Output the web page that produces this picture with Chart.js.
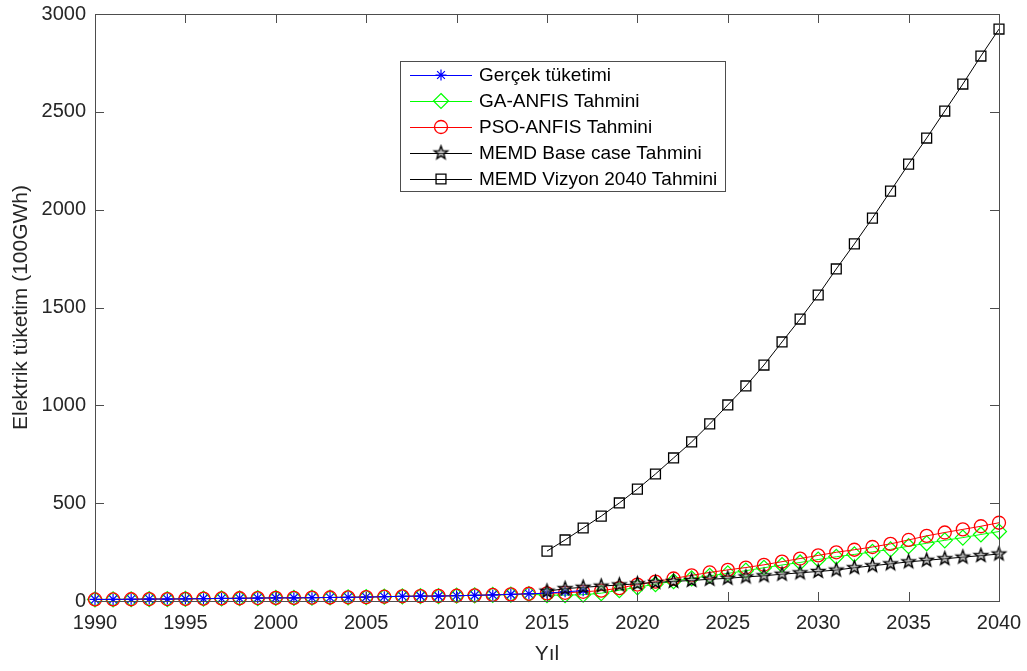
<!DOCTYPE html>
<html>
<head>
<meta charset="utf-8">
<script src="https://cdn.jsdelivr.net/npm/chart.js@4"></script>
<style>
  html, body { margin: 0; padding: 0; background: #fff; }
  #wrap { width: 1027px; height: 671px; }
</style>
</head>
<body>
<div id="wrap"><canvas id="chart" width="1027" height="671"></canvas></div>
<script>
'use strict';

// Years
const yearsAll = [1990, 1991, 1992, 1993, 1994, 1995, 1996, 1997, 1998, 1999,
  2000, 2001, 2002, 2003, 2004, 2005, 2006, 2007, 2008, 2009,
  2010, 2011, 2012, 2013, 2014, 2015, 2016, 2017, 2018, 2019,
  2020, 2021, 2022, 2023, 2024, 2025, 2026, 2027, 2028, 2029,
  2030, 2031, 2032, 2033, 2034, 2035, 2036, 2037, 2038, 2039, 2040];
const yearsReal = [1990, 1991, 1992, 1993, 1994, 1995, 1996, 1997, 1998, 1999,
  2000, 2001, 2002, 2003, 2004, 2005, 2006, 2007, 2008, 2009,
  2010, 2011, 2012, 2013, 2014, 2015, 2016, 2017];
const yearsForecast = [2015, 2016, 2017, 2018, 2019, 2020, 2021, 2022, 2023, 2024,
  2025, 2026, 2027, 2028, 2029, 2030, 2031, 2032, 2033, 2034,
  2035, 2036, 2037, 2038, 2039, 2040];

// Series values (100GWh)
const realValues = [8, 8, 9, 10, 10, 11, 12, 13, 14, 15,
  16, 16, 17, 18, 19, 20, 22, 24, 25, 25,
  27, 29, 31, 34, 37, 40, 47, 53];
const gaValues = [8, 8, 9, 10, 10, 11, 12, 13, 14, 15,
  16, 16, 17, 18, 19, 20, 22, 24, 25, 25,
  27, 29, 31, 33, 35,
  30, 30, 32, 40, 55, 70, 86, 101, 116, 129,
  141, 155, 170, 184, 197, 212, 226, 238, 251, 264,
  280, 295, 310, 324, 340, 355];
const psoValues = [8, 8, 9, 10, 10, 11, 12, 13, 14, 15,
  16, 16, 17, 18, 19, 20, 22, 24, 25, 26,
  27, 29, 31, 34, 37,
  39, 42, 47, 53, 66, 84, 99, 115, 131, 146,
  159, 171, 185, 201, 217, 233, 249, 262, 276, 292,
  312, 333, 350, 366, 382, 400];
const baseValues = [50, 63, 70, 76, 82, 88, 95, 100, 105, 111,
  116, 123, 129, 137, 144, 151, 158, 170, 180, 190,
  200, 208, 216, 224, 232, 240];
const vizyonValues = [255, 312, 373, 434, 501, 572, 649, 731, 813, 905,
  1002, 1099, 1206, 1324, 1441, 1564, 1697, 1825, 1957, 2095,
  2233, 2366, 2504, 2642, 2785, 2923];

const seriesLabels = ['Gerçek tüketimi', 'GA-ANFIS Tahmini', 'PSO-ANFIS Tahmini',
  'MEMD Base case Tahmini', 'MEMD Vizyon 2040 Tahmini'];

const FONT = '"Liberation Sans", Arial, Helvetica, sans-serif';
const TEXT = '#262626';
const AXIS = '#4d4d4d';

function toPoints(years, values) {
  return values.map(function (v, i) { return { x: years[i], y: v }; });
}

// Pentagram marker (MATLAB 'p')
function makePentagram(r, lw) {
  const size = Math.ceil(2 * r + 2 * lw + 2);
  const c = document.createElement('canvas');
  c.width = size;
  c.height = size;
  const g = c.getContext('2d');
  const cx = size / 2, cy = size / 2;
  g.beginPath();
  for (let i = 0; i < 10; i++) {
    const rad = (i % 2 === 0) ? r : r * 0.42;
    const a = -Math.PI / 2 + i * Math.PI / 5;
    const px = cx + rad * Math.cos(a), py = cy + rad * Math.sin(a);
    if (i === 0) g.moveTo(px, py); else g.lineTo(px, py);
  }
  g.closePath();
  g.fillStyle = 'rgba(128,128,128,0.5)';
  g.fill();
  g.lineWidth = lw;
  g.strokeStyle = '#000';
  g.lineJoin = 'miter';
  g.stroke();
  return c;
}
const starImg = makePentagram(7, 1.4);

const NONE = 'rgba(0,0,0,0)';

const datasets = [{
  label: seriesLabels[0],
  data: toPoints(yearsReal, realValues),
  borderColor: '#0000ff',
  backgroundColor: NONE,
  pointBorderColor: '#0000ff',
  pointStyle: 'star',
  pointRadius: 5.5,
  pointBorderWidth: 1.2,
  borderWidth: 1,
  order: 1
}, {
  label: seriesLabels[1],
  data: toPoints(yearsAll, gaValues),
  borderColor: '#00ff00',
  backgroundColor: NONE,
  pointBorderColor: '#00ff00',
  pointStyle: 'rectRot',
  pointRadius: 7.5,
  pointBorderWidth: 1.2,
  borderWidth: 1,
  order: 3
}, {
  label: seriesLabels[2],
  data: toPoints(yearsAll, psoValues),
  borderColor: '#ff0000',
  backgroundColor: NONE,
  pointBorderColor: '#ff0000',
  pointStyle: 'circle',
  pointRadius: 6.5,
  pointBorderWidth: 1.3,
  borderWidth: 1,
  order: 2
}, {
  label: seriesLabels[3],
  data: toPoints(yearsForecast, baseValues),
  borderColor: '#000000',
  backgroundColor: NONE,
  pointStyle: starImg,
  pointRadius: 7,
  borderWidth: 1,
  order: 0
}, {
  label: seriesLabels[4],
  data: toPoints(yearsForecast, vizyonValues),
  borderColor: '#000000',
  backgroundColor: NONE,
  pointBorderColor: '#000000',
  pointStyle: 'rect',
  pointRadius: 7,
  pointBorderWidth: 1.3,
  borderWidth: 1,
  order: 0
}];

datasets.forEach(function (d) {
  d.showLine = true;
  d.fill = false;
  d.tension = 0;
  d.clip = false;
  d.pointHoverRadius = d.pointRadius;
});

/**
 * Axes box with inward ticks, MATLAB style.
 */
const axesBoxPlugin = {
  id: 'axesBox',
  afterDraw: function (chart) {
    const ctx = chart.ctx;
    const a = chart.chartArea;
    const xs = chart.scales.x, ys = chart.scales.y;
    const tl = 9;
    ctx.save();
    ctx.strokeStyle = AXIS;
    ctx.lineWidth = 1;
    ctx.strokeRect(Math.round(a.left) + 0.5, Math.round(a.top) + 0.5,
      Math.round(a.right - a.left), Math.round(a.bottom - a.top));
    ctx.beginPath();
    xs.ticks.forEach(function (t) {
      const px = Math.round(xs.getPixelForValue(t.value)) + 0.5;
      ctx.moveTo(px, a.bottom); ctx.lineTo(px, a.bottom - tl);
      ctx.moveTo(px, a.top); ctx.lineTo(px, a.top + tl);
    });
    ys.ticks.forEach(function (t) {
      const py = Math.round(ys.getPixelForValue(t.value)) + 0.5;
      ctx.moveTo(a.left, py); ctx.lineTo(a.left + tl, py);
      ctx.moveTo(a.right, py); ctx.lineTo(a.right - tl, py);
    });
    ctx.stroke();
    ctx.restore();
  }
};

/**
 * Legend box drawn inside the axes.
 */
function drawMarker(ctx, ds, x, y) {
  const r = ds.pointRadius;
  ctx.save();
  ctx.strokeStyle = ds.pointBorderColor || '#000';
  ctx.lineWidth = ds.pointBorderWidth || 1;
  ctx.beginPath();
  if (ds.pointStyle === 'circle') {
    ctx.arc(x, y, r, 0, Math.PI * 2);
  } else if (ds.pointStyle === 'rectRot') {
    ctx.moveTo(x, y - r); ctx.lineTo(x + r, y); ctx.lineTo(x, y + r); ctx.lineTo(x - r, y); ctx.closePath();
  } else if (ds.pointStyle === 'rect') {
    const s = Math.SQRT1_2 * r;
    ctx.rect(x - s, y - s, 2 * s, 2 * s);
  } else if (ds.pointStyle === 'star') {
    for (let i = 0; i < 4; i++) {
      const a = i * Math.PI / 4;
      ctx.moveTo(x - r * Math.cos(a), y - r * Math.sin(a));
      ctx.lineTo(x + r * Math.cos(a), y + r * Math.sin(a));
    }
  } else if (ds.pointStyle instanceof HTMLCanvasElement) {
    const img = ds.pointStyle;
    ctx.drawImage(img, x - img.width / 2, y - img.height / 2);
  }
  ctx.stroke();
  ctx.restore();
}

const insideLegendPlugin = {
  id: 'insideLegend',
  afterDraw: function (chart) {
    const ctx = chart.ctx;
    const box = { x: 400.5, y: 61.5, w: 325, h: 130 };
    const rowY = [75, 101, 127, 153, 179];
    ctx.save();
    ctx.fillStyle = '#fff';
    ctx.fillRect(box.x, box.y, box.w, box.h);
    ctx.strokeStyle = AXIS;
    ctx.lineWidth = 1;
    ctx.strokeRect(box.x, box.y, box.w, box.h);
    ctx.font = '19px ' + FONT;
    ctx.textBaseline = 'middle';
    ctx.textAlign = 'left';
    datasets.forEach(function (ds, i) {
      const y = rowY[i];
      ctx.strokeStyle = ds.borderColor;
      ctx.lineWidth = 1;
      ctx.beginPath();
      ctx.moveTo(410, y + 0.5);
      ctx.lineTo(472, y + 0.5);
      ctx.stroke();
      drawMarker(ctx, ds, 441, y);
      ctx.fillStyle = '#000';
      ctx.fillText(ds.label, 479, y + 1);
    });
    ctx.restore();
  }
};

new Chart(document.getElementById('chart').getContext('2d'), {
  type: 'scatter',
  data: { datasets: datasets },
  plugins: [axesBoxPlugin, insideLegendPlugin],
  options: {
    responsive: false,
    animation: false,
    layout: { padding: { left: 0, right: 28, top: 14, bottom: 0 } },
    plugins: {
      legend: { display: false },
      tooltip: { enabled: false }
    },
    scales: {
      x: {
        type: 'linear',
        min: 1990,
        max: 2040,
        border: { display: false },
        grid: { display: false, drawTicks: false },
        ticks: {
          stepSize: 5,
          padding: 10,
          color: TEXT,
          font: { family: FONT, size: 20 },
          maxRotation: 0,
          callback: function (v) { return String(v); }
        },
        title: {
          display: true,
          text: 'Yıl',
          color: TEXT,
          font: { family: FONT, size: 21 },
          padding: { top: 0, bottom: 4 }
        },
        afterFit: function (scale) {
          scale.height = 70;
          scale.paddingLeft = 0;
          scale.paddingRight = 0;
        }
      },
      y: {
        type: 'linear',
        min: 0,
        max: 3000,
        border: { display: false },
        grid: { display: false, drawTicks: false },
        ticks: {
          stepSize: 500,
          padding: 9,
          color: TEXT,
          font: { family: FONT, size: 20 },
          callback: function (v) { return String(v); }
        },
        title: {
          display: true,
          text: 'Elektrik tüketim (100GWh)',
          color: TEXT,
          font: { family: FONT, size: 21 },
          padding: { top: 9, bottom: 0 }
        },
        afterFit: function (scale) {
          scale.width = 95;
          scale.paddingTop = 0;
          scale.paddingBottom = 0;
        }
      }
    }
  }
});
</script>
</body>
</html>
